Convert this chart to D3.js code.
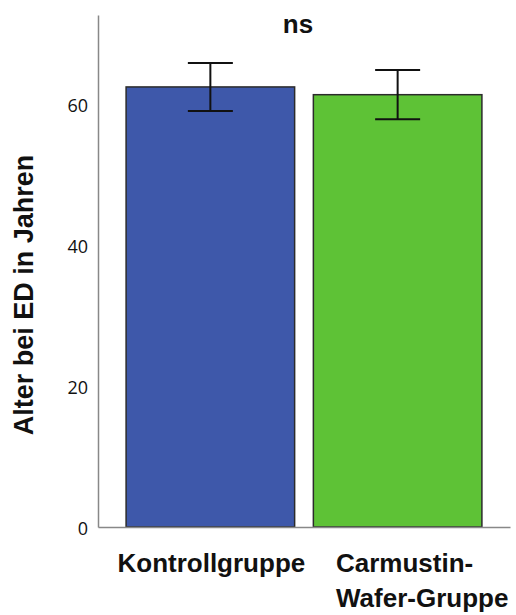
<!DOCTYPE html>
<html>
<head>
<meta charset="utf-8">
<script src="https://cdn.jsdelivr.net/npm/d3@7"></script>
<style>
  html, body { margin: 0; padding: 0; background: #fff; }
  svg { display: block; }
</style>
</head>
<body>
<script>
// Group means of age at first diagnosis with error-bar limits
const groups = ["Kontrollgruppe", "Carmustin-Wafer-Gruppe"];
const groupLabelLines = [["Kontrollgruppe"], ["Carmustin-", "Wafer-Gruppe"]];
const means = [62.4, 61.3];
const lowerLimits = [59.0, 57.8];
const upperLimits = [65.8, 64.8];
const barColors = ["#3e58aa", "#5ec236"];
const yTicks = [0, 20, 40, 60];
const yTitle = "Alter bei ED in Jahren";
const significance = "ns";

const W = 516, H = 615;
const svg = d3.select("body").append("svg").attr("width", W).attr("height", H);

const x = d3.scaleBand().domain(groups).range([98, 510])
  .paddingInner(0.1).paddingOuter(0.15);
const y = d3.scaleLinear().domain([0, 72.6]).range([527, 15]);

const boldFont = "'Liberation Sans', Arial, sans-serif";

// bars
svg.selectAll("rect.bar").data(groups).join("rect")
  .attr("class", "bar")
  .attr("x", d => x(d))
  .attr("width", x.bandwidth())
  .attr("y", (d, i) => y(means[i]))
  .attr("height", (d, i) => y(0) - y(means[i]))
  .attr("fill", (d, i) => barColors[i])
  .attr("stroke", "#2b2b2b")
  .attr("stroke-width", 1.5);

// error bars
const capHalf = 22.5;
const eb = svg.selectAll("g.err").data(groups).join("g").attr("class", "err")
  .attr("stroke", "#111").attr("stroke-width", 2);
eb.append("line")
  .attr("x1", d => x(d) + x.bandwidth() / 2).attr("x2", d => x(d) + x.bandwidth() / 2)
  .attr("y1", (d, i) => y(upperLimits[i])).attr("y2", (d, i) => y(lowerLimits[i]));
eb.append("line")
  .attr("x1", d => x(d) + x.bandwidth() / 2 - capHalf).attr("x2", d => x(d) + x.bandwidth() / 2 + capHalf)
  .attr("y1", (d, i) => y(upperLimits[i])).attr("y2", (d, i) => y(upperLimits[i]));
eb.append("line")
  .attr("x1", d => x(d) + x.bandwidth() / 2 - capHalf).attr("x2", d => x(d) + x.bandwidth() / 2 + capHalf)
  .attr("y1", (d, i) => y(lowerLimits[i])).attr("y2", (d, i) => y(lowerLimits[i]));

// y axis (no tick marks, only labels)
const yAxis = d3.axisLeft(y).tickValues(yTicks).tickSize(0).tickPadding(10);
const gy = svg.append("g").attr("transform", "translate(98,0)").call(yAxis);
gy.select(".domain").attr("stroke", "#888").attr("stroke-width", 1.5);
gy.selectAll(".tick text")
  .attr("font-family", "'Open Sans', sans-serif")
  .attr("font-size", 18)
  .attr("fill", "#111")
  .attr("dy", "0.4em");

// x baseline
const xAxis = d3.axisBottom(x).tickSize(0).tickFormat("");
const gx = svg.append("g").attr("transform", "translate(0,527)").call(xAxis);
gx.select(".domain").attr("stroke", "#888").attr("stroke-width", 1.5);

// category labels
const lab = svg.selectAll("text.cat").data(groups).join("text")
  .attr("class", "cat")
  .attr("font-family", boldFont)
  .attr("font-weight", "bold")
  .attr("font-size", 26)
  .attr("fill", "#111")
  .attr("y", 572);
lab.each(function(d, i) {
  const cx = x(d) + x.bandwidth() / 2;
  const t = d3.select(this);
  groupLabelLines[i].forEach((line, k) => {
    t.append("tspan")
      .attr("x", i === 1 ? 336 : cx + 1)
      .attr("text-anchor", i === 1 ? "start" : "middle")
      .attr("dy", k === 0 ? 0 : 35)
      .text(line);
  });
});

// y title
svg.append("text")
  .attr("transform", "translate(33,295) rotate(-90)")
  .attr("text-anchor", "middle")
  .attr("font-family", boldFont)
  .attr("font-weight", "bold")
  .attr("font-size", 27)
  .attr("fill", "#111")
  .text(yTitle);

// significance marker
svg.append("text")
  .attr("x", 298).attr("y", 33)
  .attr("text-anchor", "middle")
  .attr("font-family", boldFont)
  .attr("font-weight", "bold")
  .attr("font-size", 26)
  .attr("fill", "#111")
  .text(significance);
</script>
</body>
</html>
